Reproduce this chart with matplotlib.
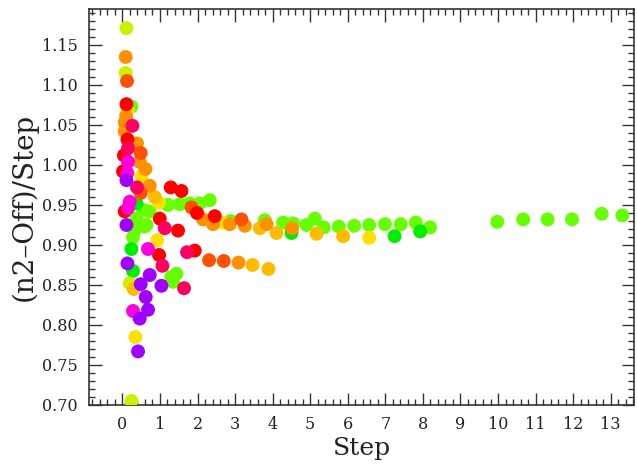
import matplotlib.pyplot as plt
from matplotlib.ticker import MultipleLocator, FormatStrFormatter

plt.rcParams['font.family'] = 'DejaVu Serif'

# point groups, one per colour (Step, (n2-Off)/Step)
yg_x = [0.107, 0.088, 0.24, 0.194]
yg_y = [1.171, 1.115, 0.705, 0.852]

lg_x = [0.24, 0.727, 1.215, 1.526, 1.793, 2.059, 2.325, 0.594, 0.328, 0.373, 0.282,
        2.88, 3.791, 4.278, 4.545, 4.901, 5.123, 1.438, 1.348, 1.30, 0.549, 0.639,
        5.36, 5.76, 6.17, 6.57, 6.99, 7.41, 7.81, 8.19, 9.98, 10.67, 11.32, 11.97,
        12.76, 13.31]
lg_y = [1.073, 0.942, 0.950, 0.951, 0.952, 0.952, 0.956, 0.923, 0.919, 0.933, 0.910,
        0.930, 0.931, 0.928, 0.927, 0.925, 0.933, 0.864, 0.854, 0.860, 0.944, 0.925,
        0.922, 0.923, 0.924, 0.925, 0.926, 0.926, 0.928, 0.922, 0.929, 0.932, 0.932,
        0.932, 0.939, 0.937]

g_x = [0.373, 0.24, 0.282, 7.246, 7.928, 4.502]
g_y = [0.952, 0.895, 0.8675, 0.911, 0.917, 0.915]

y_x = [0.133, 0.506, 0.975, 0.927, 0.346, 6.569, 2.68]
y_y = [1.069, 0.986, 0.953, 0.906, 0.785, 0.909, 0.928]

a_x = [3.889, 5.168, 5.876, 3.657, 4.102, 0.86, 0.301, 3.463]
a_y = [0.870, 0.914, 0.911, 0.921, 0.915, 0.960, 0.845, 0.875]

o_x = [0.088, 0.061, 0.061, 0.389, 0.461, 0.613, 0.727, 2.413, 2.858, 3.258, 3.836,
       4.518, 3.09, 2.147, 0.10]
o_y = [1.135, 1.053, 1.042, 1.027, 1.004, 0.995, 0.974, 0.926, 0.926, 0.924, 0.926,
       0.921, 0.878, 0.932, 1.061]

ro_x = [0.123, 0.487, 0.487, 1.838, 3.17, 2.307, 2.698]
ro_y = [1.105, 1.015, 0.965, 0.947, 0.932, 0.881, 0.880]

r_x = [0.107, 0.133, 0.016, 1.287, 1.572, 0.061, 1.987, 2.459, 0.994, 1.481, 0.975, 1.926,
       0.04]
r_y = [1.076, 1.032, 0.992, 0.972, 0.9675, 0.942, 0.940, 0.936, 0.933, 0.918, 0.8875, 0.893,
       1.012]

mr_x = [0.266, 0.149, 0.389, 1.066, 1.721, 1.641, 1.127]
mr_y = [1.049, 1.021, 0.972, 0.874, 0.891, 0.846, 0.921]

m_x = [0.149, 0.194, 0.682, 0.282, 0.149, 0.13]
m_y = [1.004, 0.954, 0.895, 0.8175, 0.946, 0.99]

p_x = [0.107, 0.107, 0.133, 0.727, 0.487, 1.039, 0.621, 0.682, 0.461, 0.416]
p_y = [0.981, 0.925, 0.877, 0.8625, 0.851, 0.849, 0.835, 0.819, 0.808, 0.767]

groups = [
    (lg_x, lg_y, '#66ff00'),
    (g_x, g_y, '#00ee00'),
    (yg_x, yg_y, '#ccf000'),
    (y_x, y_y, '#ffe000'),
    (a_x, a_y, '#ffbb00'),
    (o_x, o_y, '#ff9000'),
    (ro_x, ro_y, '#ff5000'),
    (r_x, r_y, '#ff0000'),
    (mr_x, mr_y, '#ff0060'),
    (m_x, m_y, '#ff00dd'),
    (p_x, p_y, '#a000ff'),
]

fig = plt.figure(figsize=(6.37, 4.70), dpi=100)
ax = fig.add_axes([0.1397, 0.1383, 0.8556, 0.8419])

for xs, ys, c in groups:
    ax.scatter(xs, ys, s=100, color=c, edgecolors='none', zorder=3)

ax.set_xlim(-0.89, 13.62)
ax.set_ylim(0.70, 1.1946)

ax.xaxis.set_major_locator(MultipleLocator(1))
ax.xaxis.set_minor_locator(MultipleLocator(0.2))
ax.yaxis.set_major_locator(MultipleLocator(0.05))
ax.yaxis.set_minor_locator(MultipleLocator(0.01))
ax.yaxis.set_major_formatter(FormatStrFormatter('%.2f'))

ax.tick_params(which='both', direction='in', top=True, right=True,
               colors='#333333', labelcolor='#222222', labelsize=11.5)
ax.tick_params(which='major', length=9, width=1, pad=8)
ax.tick_params(which='minor', length=4.5, width=1)
for s in ax.spines.values():
    s.set_linewidth(1.2)
    s.set_color('#333333')

ax.set_xlabel('Step', fontsize=18, color='#222222', labelpad=3)
ax.set_ylabel('(n2\u2013Off)/Step', fontsize=20, color='#222222', labelpad=3)

fig.savefig('out.png', dpi=100)
